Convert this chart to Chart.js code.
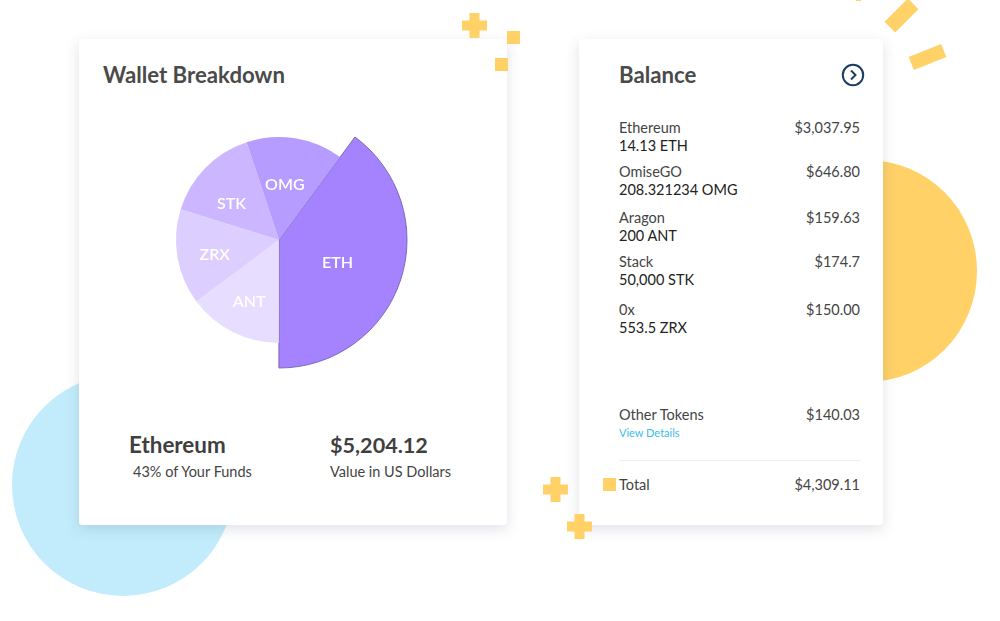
<!DOCTYPE html>
<html>
<head>
<meta charset="utf-8">
<title>Wallet Breakdown</title>
<script src="https://cdn.jsdelivr.net/npm/chart.js@4/dist/chart.umd.min.js"></script>
<style>
html, body { margin: 0; padding: 0; background: #fff; }
body { width: 1000px; height: 621px; position: relative; overflow: hidden; font-family: Lato, "Open Sans", sans-serif; color: #444; }
.abs { position: absolute; }
.txt { position: absolute; line-height: 20px; white-space: nowrap; font-size: 14.5px; }
.right { text-align: right; }
.card { position: absolute; background: #fff; top: 39px; height: 486px; border-radius: 3px; box-shadow: 0 4px 14px rgba(70, 75, 110, 0.16); }
.circle { position: absolute; border-radius: 50%; }
.yellow { background: #ffd166; }
.plus { position: absolute; width: 25px; height: 25px; background: #ffd166;
  clip-path: polygon(30% 0, 70% 0, 70% 30%, 100% 30%, 100% 70%, 70% 70%, 70% 100%, 30% 100%, 30% 70%, 0 70%, 0 30%, 30% 30%); }
.square { position: absolute; width: 13px; height: 13px; }
.stripe { position: absolute; }
#pie { position: absolute; left: 129px; top: 90px; }
</style>
</head>
<body>

<div class="circle" style="left:12px;top:374px;width:222px;height:222px;background:#c2ecfb"></div>
<div class="circle yellow" style="left:757px;top:160px;width:220px;height:222px"></div>

<div class="card" style="left:79px;width:428px"></div>
<div class="card" style="left:579px;width:304px"></div>

<div class="plus" style="left:462px;top:13px"></div>
<div class="plus" style="left:543px;top:477px"></div>
<div class="plus" style="left:567px;top:514px"></div>
<div class="square yellow" style="left:507px;top:31px"></div>
<div class="square yellow" style="left:495px;top:58px"></div>
<div class="square yellow" style="left:603px;top:478px"></div>
<div class="stripe yellow" style="left:885px;top:8px;width:33px;height:15px;transform:rotate(-45deg)"></div>
<div class="stripe yellow" style="left:910px;top:50px;width:35px;height:14px;transform:rotate(-22deg)"></div>
<div class="stripe yellow" style="left:856px;top:0;width:5px;height:1px"></div>

<div class="txt" style="left:103px;top:65px;font-size:22.2px;font-weight:700;color:#4a4a4a">Wallet Breakdown</div>
<canvas id="pie" width="300" height="300"></canvas>
<div class="txt" style="left:129px;top:435px;font-size:22.4px;font-weight:700;color:#3f3f3f">Ethereum</div>
<div class="txt" style="left:133px;top:462px;color:#444">43% of Your Funds</div>
<div class="txt" style="left:330px;top:435px;font-size:21.6px;font-weight:700;color:#3f3f3f">$5,204.12</div>
<div class="txt" style="left:330px;top:462px;color:#444">Value in US Dollars</div>

<div class="txt" style="left:619px;top:65px;font-size:22.2px;font-weight:700;color:#4a4a4a">Balance</div>
<svg class="abs" style="left:841px;top:63px" width="24" height="24" viewBox="0 0 24 24">
  <circle cx="12" cy="12" r="10.2" fill="none" stroke="#1d3c63" stroke-width="2"></circle>
  <path d="M10 7.5 L14.5 12 L10 16.5" fill="none" stroke="#1d3c63" stroke-width="2"></path>
</svg>
<div id="rows"></div>
<div class="txt" style="left:619px;top:405px;color:#444">Other Tokens</div>
<div class="txt right" style="left:760px;width:100px;top:405px;color:#444">$140.03</div>
<div class="txt" style="left:619px;top:423px;font-size:11px;color:#39bdea">View Details</div>
<div class="abs" style="left:619px;top:460px;width:242px;height:1px;background:#eeeef2"></div>
<div class="txt" style="left:619px;top:475px;color:#444">Total</div>
<div class="txt right" style="left:760px;width:100px;top:475px;color:#444">$4,309.11</div>

<script>
// Pie data (share of the circle)
const slices = ['ETH', 'ANT', 'ZRX', 'STK', 'OMG'];
const shares = [39.9, 14.8, 15.0, 15.1, 15.2];
const sliceColors = ['#a583ff', '#e7deff', '#dccfff', '#cbb6ff', '#b69cff'];

// Balance list
const tokenNames = ['Ethereum', 'OmiseGO', 'Aragon', 'Stack', '0x'];
const tokenAmounts = ['14.13 ETH', '208.321234 OMG', '200 ANT', '50,000 STK', '553.5 ZRX'];
const tokenValues = ['$3,037.95', '$646.80', '$159.63', '$174.7', '$150.00'];

const rowTops = [118, 162, 208, 252, 300];
const rows = document.getElementById('rows');
tokenNames.forEach((name, i) => {
    const top = rowTops[i];
    rows.innerHTML +=
        `<div class="txt" style="left:619px;top:${top}px;color:#444">${name}</div>` +
        `<div class="txt" style="left:619px;top:${top + 18}px;color:#222">${tokenAmounts[i]}</div>` +
        `<div class="txt right" style="left:760px;width:100px;top:${top}px;color:#444">${tokenValues[i]}</div>`;
});

// ETH slice sticks out past the others
const bigSlice = {
    id: 'bigSlice',
    afterDatasetsUpdate(chart) {
        chart.getDatasetMeta(0).data[0].outerRadius = 128;
    }
};

// name inside each slice
const labelDistance = [0.61, 0.67, 0.64, 0.58, 0.54];
const labelTurn = [3, -1, -3, -7, -3];
const sliceLabels = {
    id: 'sliceLabels',
    afterDatasetsDraw(chart) {
        const c = chart.ctx;
        c.save();
        c.font = '600 16px Lato';
        c.fillStyle = '#fff';
        c.textAlign = 'center';
        c.textBaseline = 'middle';
        chart.getDatasetMeta(0).data.forEach((arc, i) => {
            const mid = (arc.startAngle + arc.endAngle) / 2 + labelTurn[i] * Math.PI / 180;
            const r = 103 * labelDistance[i];
            c.fillText(slices[i], arc.x + Math.cos(mid) * r, arc.y + Math.sin(mid) * r);
        });
        c.restore();
    }
};

new Chart(document.getElementById('pie'), {
    type: 'pie',
    data: {
        labels: slices,
        datasets: [{
            data: shares,
            backgroundColor: sliceColors,
            borderColor: ['#7d68b8', '#fff', '#fff', '#fff', '#fff'],
            borderWidth: [1, 0, 0, 0, 0]
        }]
    },
    options: {
        responsive: false,
        animation: false,
        rotation: 36.4,
        radius: 103,
        layout: { padding: 0 },
        plugins: {
            legend: { display: false },
            tooltip: { enabled: false }
        }
    },
    plugins: [bigSlice, sliceLabels]
});
</script>
</body>
</html>
